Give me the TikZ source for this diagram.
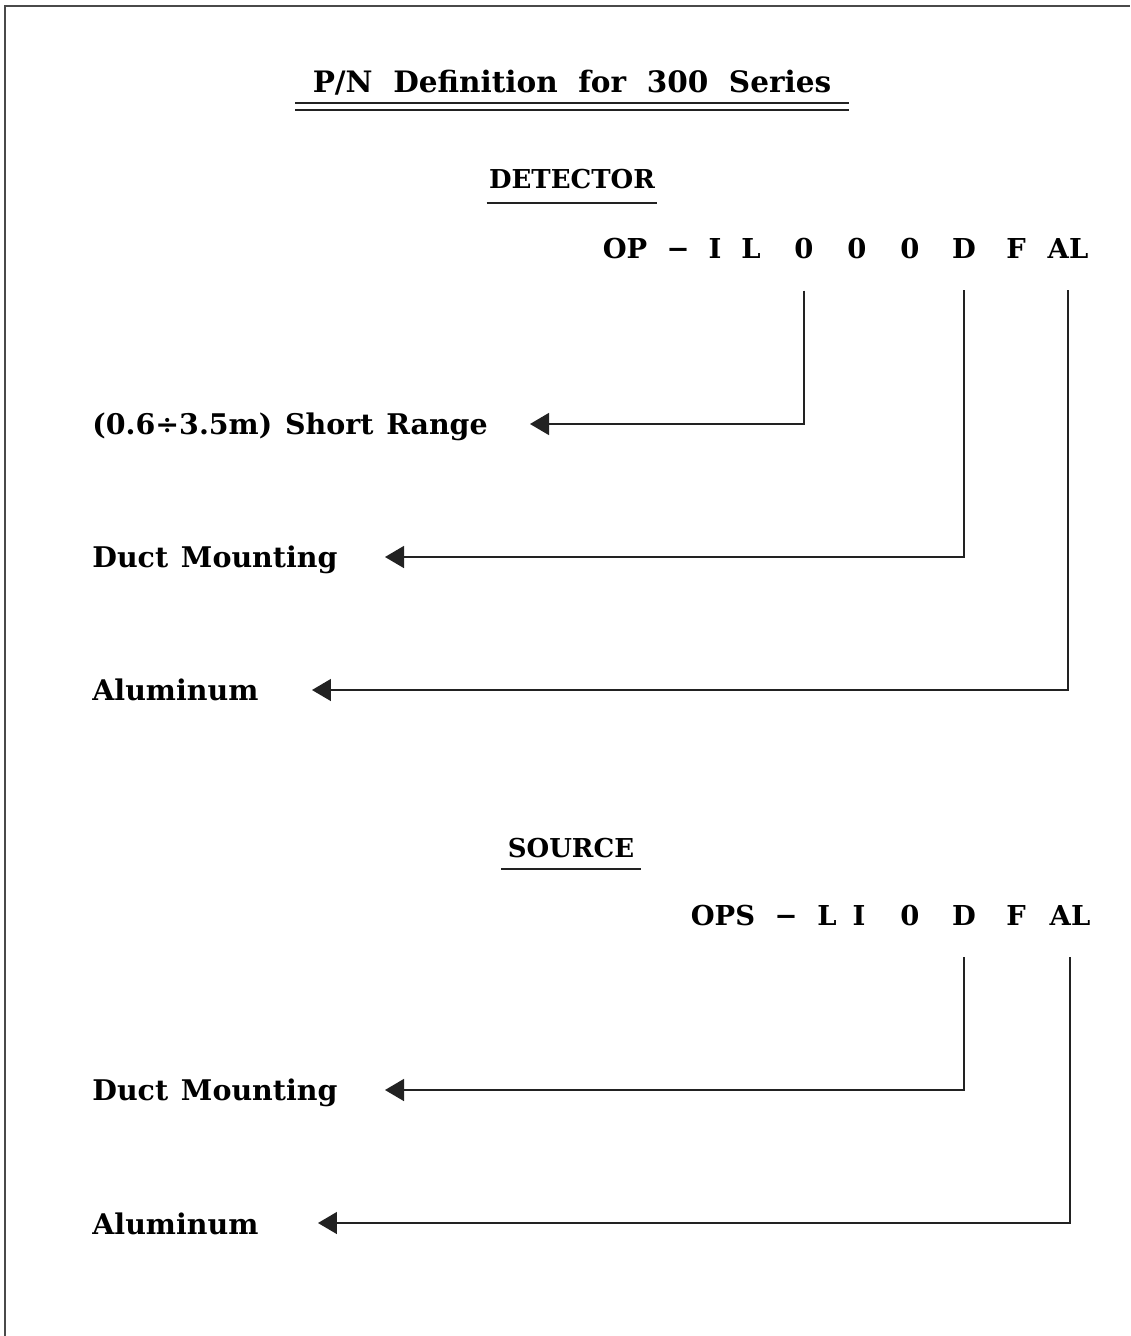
\documentclass[tikz,border=0pt]{standalone}
\usepackage{fontspec}
\setmainfont{DejaVu Serif}
\usepackage{xcolor}
\usetikzlibrary{arrows.meta}
\definecolor{frame}{HTML}{4A4A4A}
\definecolor{ink}{HTML}{222222}
\newcommand{\pnfont}{\bfseries\fontsize{15.6}{18}\selectfont}
\tikzset{
  FrameLine/.style={draw=frame, line width=0.04cm},
  Heading/.style={font=\bfseries\fontsize{14.8}{18}\selectfont, anchor=base, inner sep=0pt},
  Rule/.style={draw=ink, line width=0.03cm},
  CodeChar/.style={font=\pnfont, anchor=base, inner xsep=0pt, inner ysep=0.64cm},
  Meaning/.style={font=\bfseries\fontsize{16.2}{19}\selectfont,
    anchor=base west, inner sep=0pt},
  Pointer/.style={draw=ink, line width=0.03cm,
    -{Triangle[length=0.38cm, width=0.44cm]}}
}

\begin{document}
\begin{tikzpicture}[x=0.02cm, y=-0.02cm]
  \useasboundingbox (0,0) rectangle (1130,1336);
  % page frame, only top and left edge show
  \draw[FrameLine] (5,1336) -- (5,6) -- (1130,6);

  % title with double rule
  \node[Heading, minimum width=11.06cm, font=\bfseries\fontsize{16.8}{20}\selectfont]
    (title) at (572,92) {P/N\ \ Definition\ \ for\ \ 300\ \ Series};
  \draw[Rule] ([yshift=-0.22cm]title.base west) -- ([yshift=-0.22cm]title.base east);
  \draw[Rule] ([yshift=-0.36cm]title.base west) -- ([yshift=-0.36cm]title.base east);

  % DETECTOR part number
  \node[Heading, minimum width=3.4cm] (det) at (572,188) {DETECTOR};
  \draw[Rule] ([yshift=-0.3cm]det.base west) -- ([yshift=-0.3cm]det.base east);

  \node[CodeChar] (dOP)   at (625,258)  {OP};
  \node[CodeChar] (dDash) at (678,258)  {−};
  \node[CodeChar] (dI)    at (715,258)  {I};
  \node[CodeChar] (dL)    at (751,258)  {L};
  \node[CodeChar] (dZa)   at (804,258)  {0};
  \node[CodeChar] (dZb)   at (857,258)  {0};
  \node[CodeChar] (dZc)   at (910,258)  {0};
  \node[CodeChar] (dD)    at (964,258)  {D};
  \node[CodeChar] (dF)    at (1016,258) {F};
  \node[CodeChar] (dAL)   at (1068,258) {AL};

  \node[Meaning] (dRange) at (92,434) {(0.6÷3.5m)\hspace{0.45em}Short\hspace{0.45em}Range};
  \node[Meaning] (dDuct)  at (92,567) {Duct\hspace{0.45em}Mounting};
  \node[Meaning] (dAlu)   at (92,700) {Aluminum};

  \coordinate (dRangeTip) at (530,424);
  \coordinate (dDuctTip)  at (385,557);
  \coordinate (dAluTip)   at (312,690);

  \draw[Pointer] (dZa.south) |- (dRangeTip);
  \draw[Pointer] (dD.south)  |- (dDuctTip);
  \draw[Pointer] (dAL.south) |- (dAluTip);

  % SOURCE part number
  \node[Heading, minimum width=2.78cm] (src) at (571,857) {SOURCE};
  \draw[Rule] ([yshift=-0.24cm]src.base west) -- ([yshift=-0.24cm]src.base east);

  \node[CodeChar] (sOPS)  at (723,925)  {OPS};
  \node[CodeChar] (sDash) at (786,925)  {−};
  \node[CodeChar] (sL)    at (827,925)  {L};
  \node[CodeChar] (sI)    at (859,925)  {I};
  \node[CodeChar] (sZ)    at (910,925)  {0};
  \node[CodeChar] (sD)    at (964,925)  {D};
  \node[CodeChar] (sF)    at (1016,925) {F};
  \node[CodeChar] (sAL)   at (1070,925) {AL};

  \node[Meaning] (sDuct) at (92,1100) {Duct\hspace{0.45em}Mounting};
  \node[Meaning] (sAlu)  at (92,1234) {Aluminum};

  \coordinate (sDuctTip) at (385,1090);
  \coordinate (sAluTip)  at (318,1223);

  \draw[Pointer] (sD.south)  |- (sDuctTip);
  \draw[Pointer] (sAL.south) |- (sAluTip);
\end{tikzpicture}
\end{document}
